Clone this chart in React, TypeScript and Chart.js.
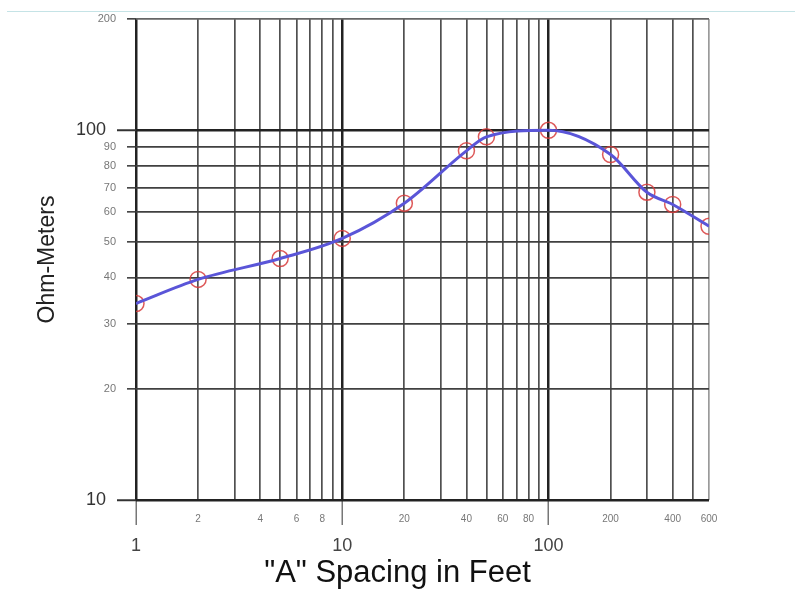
import React, { useEffect, useRef } from 'react';
import { Chart, registerables } from 'chart.js';

Chart.register(...registerables);

// Data
const spacingFeet = [1, 2, 5, 10, 20, 40, 50, 100, 200, 300, 400, 600];
const ohmMeters = [34, 39.5, 45, 51, 63.5, 88, 96, 100, 86, 68, 63, 55];

// Axis ticks / grid values
const xGridValues = [1, 2, 3, 4, 5, 6, 7, 8, 9, 10, 20, 30, 40, 50, 60, 70, 80, 90, 100, 200, 300, 400, 500, 600];
const xMinorLabels = [2, 4, 6, 8, 20, 40, 60, 80, 200, 400, 600];
const xMajorLabels = [1, 10, 100];
const yGridValues = [10, 20, 30, 40, 50, 60, 70, 80, 90, 100, 200];
const yMinorLabels = [20, 30, 40, 50, 60, 70, 80, 90, 200];
const yMajorLabels = [10, 100];

const FONT = "'Liberation Sans', Arial, sans-serif";

const tv = (ctx: any) => (ctx && ctx.tick ? ctx.tick.value : undefined);

export default function App() {
  const ref = useRef<HTMLCanvasElement | null>(null);

  useEffect(() => {
    if (!ref.current) return;
    Chart.defaults.font.family = FONT;
    const pts = spacingFeet.map((x, i) => ({ x, y: ohmMeters[i] }));

    const chart = new Chart(ref.current, {
      type: 'line',
      data: {
        datasets: [
          {
            label: 'curve',
            data: pts,
            borderColor: '#5a55d8',
            borderWidth: 3,
            pointRadius: 0,
            fill: false,
            cubicInterpolationMode: 'monotone',
          },
          {
            label: 'points',
            data: pts,
            showLine: false,
            pointRadius: 8,
            pointBorderWidth: 1.5,
            pointBorderColor: 'rgba(215,60,60,0.85)',
            pointBackgroundColor: 'rgba(0,0,0,0)',
          },
        ],
      },
      options: {
        animation: false,
        responsive: false,
        maintainAspectRatio: false,
        devicePixelRatio: 1,
        layout: { padding: { top: 19, right: 0, bottom: 0, left: 0 } },
        plugins: {
          legend: { display: false },
          tooltip: { enabled: false },
          title: {
            display: true,
            position: 'bottom',
            text: '"A" Spacing in Feet',
            color: '#111',
            font: { size: 31, weight: 'normal', family: FONT, lineHeight: 1 },
            padding: { top: 0, bottom: 3 },
          },
        },
        scales: {
          x: {
            type: 'logarithmic',
            position: 'bottom',
            min: 1,
            max: 600,
            afterBuildTicks: (s: any) => {
              s.ticks = xGridValues.map((v) => ({ value: v }));
            },
            afterFit: (s: any) => {
              s.height = 58;
            },
            border: { display: false },
            grid: {
              color: (ctx: any) => {
                const v = tv(ctx);
                if (xMajorLabels.includes(v)) return '#222';
                if (v === 600) return '#9a9a9a';
                return '#505050';
              },
              lineWidth: (ctx: any) => (xMajorLabels.includes(tv(ctx)) ? 2.5 : 1.7),
              drawTicks: true,
              tickLength: 25,
              tickWidth: 1.5,
              tickColor: (ctx: any) => (xMajorLabels.includes(tv(ctx)) ? '#777' : 'rgba(0,0,0,0)'),
            },
            ticks: {
              autoSkip: false,
              maxRotation: 0,
              minRotation: 0,
              padding: -11.5,
              color: (ctx: any) => (xMajorLabels.includes(tv(ctx)) ? '#444' : '#777'),
              font: (ctx: any) => (xMajorLabels.includes(tv(ctx)) ? { size: 18 } : { size: 10 }),
              callback: (v: any) => {
                const n = Number(v);
                if (xMajorLabels.includes(n)) return ['', String(n)];
                if (xMinorLabels.includes(n)) return String(n);
                return '';
              },
            },
          },
          y: {
            type: 'logarithmic',
            position: 'left',
            min: 10,
            max: 200,
            afterBuildTicks: (s: any) => {
              s.ticks = yGridValues.map((v) => ({ value: v }));
            },
            afterFit: (s: any) => {
              s.width = 136;
            },
            border: { display: false },
            grid: {
              color: (ctx: any) => {
                const v = tv(ctx);
                if (yMajorLabels.includes(v)) return '#222';
                if (v === 200) return '#666';
                return '#404040';
              },
              lineWidth: (ctx: any) => (yMajorLabels.includes(tv(ctx)) ? 2.5 : 1.7),
              drawTicks: true,
              tickLength: 19,
              tickWidth: (ctx: any) => (yMajorLabels.includes(tv(ctx)) ? 2 : 1.5),
              tickColor: '#333',
              tickBorderDash: (ctx: any) => (yMajorLabels.includes(tv(ctx)) ? [] : [9, 10]),
              tickBorderDashOffset: (ctx: any) => (yMajorLabels.includes(tv(ctx)) ? 0 : 9),
            },
            ticks: {
              autoSkip: false,
              padding: 1,
              color: (ctx: any) => (yMajorLabels.includes(tv(ctx)) ? '#333' : '#777'),
              font: (ctx: any) => (yMajorLabels.includes(tv(ctx)) ? { size: 18 } : { size: 11 }),
              callback: (v: any) => {
                const n = Number(v);
                if (yMajorLabels.includes(n)) return String(n) + '  ';
                if (yMinorLabels.includes(n)) return String(n);
                return '';
              },
            },
            title: {
              display: true,
              text: 'Ohm-Meters',
              color: '#222',
              font: { size: 23, family: FONT },
              padding: { top: 34, bottom: 0 },
            },
          },
          yRight: {
            type: 'linear',
            position: 'right',
            display: true,
            afterFit: (s: any) => {
              s.width = 86;
            },
            border: { display: false },
            grid: { display: false, drawTicks: false },
            ticks: { display: false },
          },
        },
      } as any,
    });
    return () => chart.destroy();
  }, []);

  return (
    <div style={{ position: 'absolute', left: 0, top: 0, width: 795, height: 592, background: '#fff' }}>
      <div style={{ position: 'absolute', left: 7, top: 11, width: 788, height: 1, background: '#c5e3e6' }} />
      <canvas ref={ref} width={795} height={592} style={{ position: 'absolute', left: 0, top: 0, width: 795, height: 592 }} />
    </div>
  );
}
